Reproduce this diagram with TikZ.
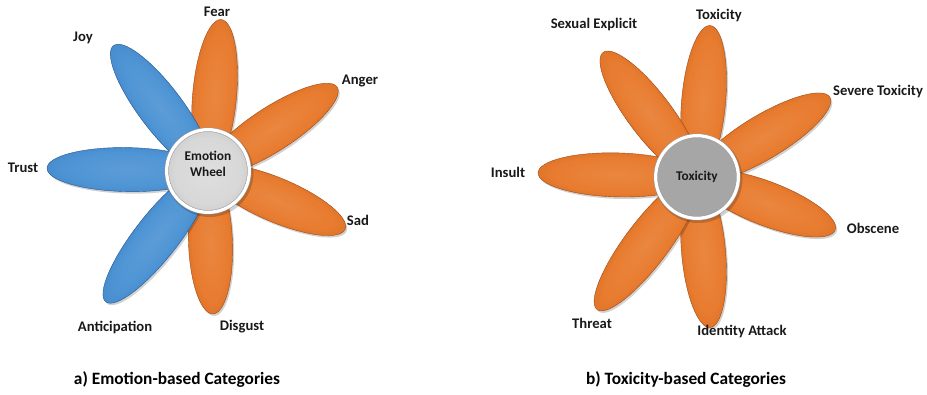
\documentclass[tikz,border=0pt]{standalone}
\usepackage{fontspec}
\setmainfont{Carlito}
\usepackage{tikz}
\usetikzlibrary{calc}
\definecolor{petalorange}{RGB}{232,124,48}
\definecolor{petalorangedark}{RGB}{188,86,20}
\definecolor{petalblue}{RGB}{78,148,212}
\definecolor{petalbluedark}{RGB}{44,104,174}
\definecolor{hublight}{RGB}{222,222,222}
\definecolor{hubdark}{RGB}{160,160,160}
\definecolor{hubgray}{RGB}{166,166,166}
\pgfdeclareradialshading{orangepetal}{\pgfpoint{0bp}{0bp}}{color(0bp)=(petalorange!92!white); color(20bp)=(petalorange); color(50bp)=(petalorangedark)}
\pgfdeclareradialshading{bluepetal}{\pgfpoint{0bp}{0bp}}{color(0bp)=(petalblue!92!white); color(20bp)=(petalblue); color(50bp)=(petalbluedark)}
\pgfdeclareradialshading{hubshade}{\pgfpoint{0bp}{0bp}}{color(0bp)=(hublight); color(20bp)=(hublight!90!hubdark); color(50bp)=(hubdark)}

\begin{document}
\begin{tikzpicture}[x=0.75pt, y=0.75pt,
    petalshadow/.style={fill=black, opacity=0.18},
    catlabel/.style={font=\bfseries\fontsize{11}{13}\selectfont, text=black!90},
    hubtext/.style={font=\bfseries\fontsize{10}{12}\selectfont, text=black!90, align=center},
    caption/.style={font=\bfseries\fontsize{13}{15}\selectfont, text=black},
    hubring/.style={circle, draw=black!40, line width=0.4pt, double=white, double distance=2.4pt, minimum size=62pt, inner sep=0pt}]
    \useasboundingbox (0,0) rectangle (927,395);

    % Centres of the two wheels
    \coordinate (emoC) at (208,224);
    \coordinate (toxC) at (697,218);

    % Emotion petals
    \foreach \ang/\len/\shd/\rim in {85/152/orangepetal/petalorangedark, 33/154/orangepetal/petalorangedark,
        -23/149/orangepetal/petalorangedark, -88/143/orangepetal/petalorangedark,
        -128/166/bluepetal/petalbluedark, 179/161/bluepetal/petalbluedark, 127/157/bluepetal/petalbluedark} {
        \fill[petalshadow] ($(emoC)+(1.5,-2)$) ++(\ang:\len/2) ellipse [x radius=\len/2, y radius=22, rotate=\ang];
        \begin{scope}[transform canvas={shift={(emoC)}, rotate=\ang}]
            \shadedraw[shading=\shd, draw=\rim!85!black, line width=0.3pt] (\len/2,0) ellipse [x radius=\len/2, y radius=22];
        \end{scope}
    }

    % Toxicity petals
    \foreach \ang/\len in {85/152, 31/155, -21/148, -85/151, -127/166, 178.5/159, 127/156} {
        \fill[petalshadow] ($(toxC)+(1.5,-2)$) ++(\ang:\len/2) ellipse [x radius=\len/2, y radius=22, rotate=\ang];
        \begin{scope}[transform canvas={shift={(toxC)}, rotate=\ang}]
            \shadedraw[shading=orangepetal, draw=petalorangedark!85!black, line width=0.3pt] (\len/2,0) ellipse [x radius=\len/2, y radius=22];
        \end{scope}
    }

    % Hubs
    \fill[petalshadow] ($(emoC)+(1.5,-2)$) circle [radius=44];
    \node[hubring, shading=hubshade] (emohub) at (emoC) {};
    \node[hubtext] (emotxt) at ($(emohub)+(0,7)$) {Emotion\\Wheel};
    \fill[petalshadow] ($(toxC)+(1.5,-2)$) circle [radius=44];
    \node[hubring, fill=hubgray] (toxhub) at (toxC) {};
    \node[hubtext] (toxtxt) at (toxhub) {Toxicity};

    % Emotion labels
    \node[catlabel] (fear) at (217,383) {Fear};
    \node[catlabel] (joy) at (83,357) {Joy};
    \node[catlabel] (anger) at (360,314) {Anger};
    \node[catlabel] (trust) at (23,227) {Trust};
    \node[catlabel] (sad) at (358,175) {Sad};
    \node[catlabel] (anticipation) at (115,67) {Anticipation};
    \node[catlabel] (disgust) at (242,68) {Disgust};

    % Toxicity labels
    \node[catlabel] (sexual) at (594,370) {Sexual Explicit};
    \node[catlabel] (toxicity) at (719,379) {Toxicity};
    \node[catlabel] (severe) at (878,303) {Severe Toxicity};
    \node[catlabel] (insult) at (508,223) {Insult};
    \node[catlabel] (obscene) at (873,167) {Obscene};
    \node[catlabel] (threat) at (592,72) {Threat};
    \node[catlabel] (identity) at (742,63) {Identity Attack};

    % Captions
    \node[caption] (capA) at (177,15) {a) Emotion-based Categories};
    \node[caption] (capB) at (686,15) {b) Toxicity-based Categories};
\end{tikzpicture}
\end{document}
